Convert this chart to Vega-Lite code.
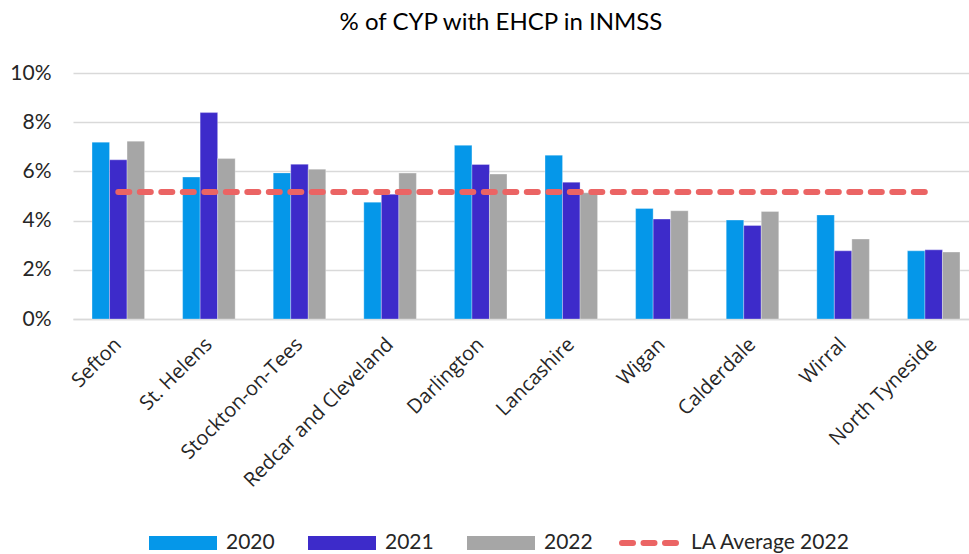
{
  "$schema": "https://vega.github.io/schema/vega-lite/v6.json",
  "width": 896,
  "height": 246,
  "autosize": {"type": "none"},
  "padding": {"left": 73, "top": 73, "right": 0, "bottom": 235},
  "background": "white",
  "config": {"view": {"stroke": null}},
  "title": {"text": "% of CYP with EHCP in INMSS", "font": "Lato", "fontSize": 24, "fontWeight": "normal", "color": "#000000", "anchor": "middle", "dx": -20, "offset": 27},
  "datasets": {
    "bars": [
      {"LA": "Sefton", "year": "2020", "pct": 0.0719},
      {"LA": "Sefton", "year": "2021", "pct": 0.0647},
      {"LA": "Sefton", "year": "2022", "pct": 0.0723},
      {"LA": "St. Helens", "year": "2020", "pct": 0.0577},
      {"LA": "St. Helens", "year": "2021", "pct": 0.0839},
      {"LA": "St. Helens", "year": "2022", "pct": 0.0652},
      {"LA": "Stockton-on-Tees", "year": "2020", "pct": 0.0594},
      {"LA": "Stockton-on-Tees", "year": "2021", "pct": 0.0629},
      {"LA": "Stockton-on-Tees", "year": "2022", "pct": 0.0609},
      {"LA": "Redcar and Cleveland", "year": "2020", "pct": 0.0475},
      {"LA": "Redcar and Cleveland", "year": "2021", "pct": 0.0507},
      {"LA": "Redcar and Cleveland", "year": "2022", "pct": 0.0593},
      {"LA": "Darlington", "year": "2020", "pct": 0.0706},
      {"LA": "Darlington", "year": "2021", "pct": 0.0628},
      {"LA": "Darlington", "year": "2022", "pct": 0.0589},
      {"LA": "Lancashire", "year": "2020", "pct": 0.0666},
      {"LA": "Lancashire", "year": "2021", "pct": 0.0556},
      {"LA": "Lancashire", "year": "2022", "pct": 0.0513},
      {"LA": "Wigan", "year": "2020", "pct": 0.0449},
      {"LA": "Wigan", "year": "2021", "pct": 0.0406},
      {"LA": "Wigan", "year": "2022", "pct": 0.0440},
      {"LA": "Calderdale", "year": "2020", "pct": 0.0402},
      {"LA": "Calderdale", "year": "2021", "pct": 0.0380},
      {"LA": "Calderdale", "year": "2022", "pct": 0.0437},
      {"LA": "Wirral", "year": "2020", "pct": 0.0423},
      {"LA": "Wirral", "year": "2021", "pct": 0.0277},
      {"LA": "Wirral", "year": "2022", "pct": 0.0325},
      {"LA": "North Tyneside", "year": "2020", "pct": 0.0277},
      {"LA": "North Tyneside", "year": "2021", "pct": 0.0281},
      {"LA": "North Tyneside", "year": "2022", "pct": 0.0272}
    ],
    "avg": [
      {"LA": "Sefton", "series": "LA Average 2022", "pct": 0.0516},
      {"LA": "St. Helens", "series": "LA Average 2022", "pct": 0.0516},
      {"LA": "Stockton-on-Tees", "series": "LA Average 2022", "pct": 0.0516},
      {"LA": "Redcar and Cleveland", "series": "LA Average 2022", "pct": 0.0516},
      {"LA": "Darlington", "series": "LA Average 2022", "pct": 0.0516},
      {"LA": "Lancashire", "series": "LA Average 2022", "pct": 0.0516},
      {"LA": "Wigan", "series": "LA Average 2022", "pct": 0.0516},
      {"LA": "Calderdale", "series": "LA Average 2022", "pct": 0.0516},
      {"LA": "Wirral", "series": "LA Average 2022", "pct": 0.0516},
      {"LA": "North Tyneside", "series": "LA Average 2022", "pct": 0.0516}
    ]
  },
  "layer": [
    {
      "data": {"name": "bars"},
      "mark": {"type": "bar", "stroke": "#ffffff", "strokeWidth": 0.5, "strokeOpacity": 0.6},
      "encoding": {
        "x": {
          "field": "LA", "type": "nominal", "sort": null,
          "scale": {"range": [0, 906], "paddingInner": 0.42, "paddingOuter": 0.21},
          "axis": {
            "title": null, "labelAngle": -45, "labelAlign": "right", "labelBaseline": "middle",
            "labelFont": "Open Sans", "labelFontSize": 20, "labelColor": "#262626", "labelLimit": 400,
            "ticks": false, "domainColor": "#d9d9d9", "domainWidth": 1.5, "labelPadding": 22
          }
        },
        "xOffset": {"field": "year", "type": "nominal"},
        "y": {
          "field": "pct", "type": "quantitative",
          "scale": {"domain": [0, 0.1]},
          "axis": {
            "title": null, "format": ".0%", "values": [0, 0.02, 0.04, 0.06, 0.08, 0.1],
            "domain": false, "ticks": false, "labelPadding": 22,
            "labelFont": "Lato", "labelFontSize": 21, "labelColor": "#262626",
            "gridColor": "#d9d9d9", "gridWidth": 1.5
          }
        },
        "fill": {
          "field": "year", "type": "nominal",
          "scale": {"domain": ["2020", "2021", "2022"], "range": ["#0597E9", "#3D2BCA", "#A6A6A6"]},
          "legend": {
            "orient": "none", "legendX": 76, "legendY": 436, "direction": "horizontal", "title": null,
            "symbolType": "M-1,-0.206H1V0.206H-1Z", "symbolSize": 4624, "symbolStrokeWidth": 0,
            "labelFont": "Lato", "labelFontSize": 21, "labelColor": "#262626", "labelOffset": 9, "columnPadding": 33
          }
        }
      }
    },
    {
      "data": {"name": "avg"},
      "mark": {"type": "line", "strokeWidth": 6, "strokeDash": [11, 10.5], "strokeCap": "round"},
      "encoding": {
        "x": {"field": "LA", "type": "nominal", "sort": null},
        "y": {"field": "pct", "type": "quantitative"},
        "stroke": {
          "field": "series", "type": "nominal",
          "scale": {"domain": ["LA Average 2022"], "range": ["#EB6464"]},
          "legend": {
            "orient": "none", "legendX": 546, "legendY": 440, "direction": "horizontal", "title": null,
            "symbolType": "stroke", "symbolSize": 2916, "symbolStrokeWidth": 6, "symbolDash": [11, 10.5],
            "labelFont": "Lato", "labelFontSize": 21, "labelColor": "#262626", "labelOffset": 12,
            "encode": {"symbols": {"update": {"strokeCap": {"value": "round"}}}}
          }
        }
      }
    }
  ]
}
